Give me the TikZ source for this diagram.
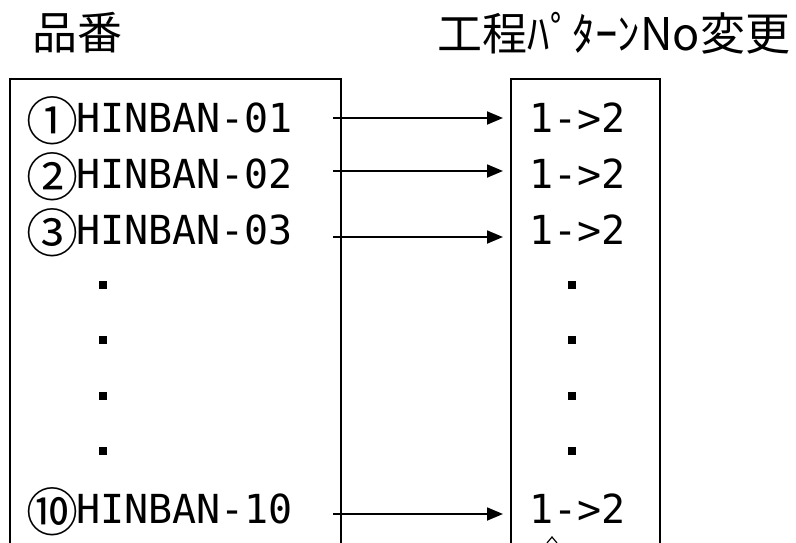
\documentclass[tikz,border=0pt]{standalone}
\usepackage{fontspec}
\newfontfamily\jpfont{Noto Sans CJK JP}
\newfontfamily\hinmono{DejaVu Sans Mono}
\usetikzlibrary{arrows.meta,positioning}
\tikzset{
  panel/.style={rectangle, draw=black, line width=2pt, anchor=north west, inner sep=0pt},
  title/.style={anchor=center, inner sep=0pt, font=\jpfont\fontsize{45pt}{45pt}\selectfont},
  item/.style={anchor=base west, inner sep=0pt, font=\hinmono\fontsize{40pt}{40pt}\selectfont},
  pnt/.style={rectangle, fill=black, minimum size=8pt, inner sep=0pt},
  flow/.style={draw, -{Triangle[length=16pt,width=13pt]}, line width=1.8pt, shorten >=7pt}
}
\newcommand{\circnum}[1]{\makebox[50pt][l]{\raisebox{-8pt}{\jpfont\fontsize{52pt}{52pt}\selectfont #1}}}

\begin{document}
\begin{tikzpicture}[x=1pt,y=-1pt]
\useasboundingbox (0,0) rectangle (796,543);
\clip (0,0) rectangle (796,543);

% headings
\node[title] (hinban) at (77,33) {品番};
\node[title] (koutei) at (614,33) {工程ﾊﾟﾀｰﾝNo変更};

% two columns, cut off at the bottom
\node[panel, minimum width=331pt, minimum height=520pt] (lbox) at (9,78) {};
\node[panel, minimum width=149pt, minimum height=520pt] (rbox) at (510,78) {};

% part numbers
\node[item] (hin1)  at (26,132) {\circnum{①}HINBAN-01};
\node[item] (hin2)  at (26,188) {\circnum{②}HINBAN-02};
\node[item] (hin3)  at (26,244) {\circnum{③}HINBAN-03};
\node[item] (hin10) at (26,523) {\circnum{⑩}HINBAN-10};

% pattern changes
\node[item] (chg1)  at (529,132) {1->2};
\node[item] (chg2)  at (529,188) {1->2};
\node[item] (chg3)  at (529,244) {1->2};
\node[item] (chg10) at (529,523) {1->2};

% omitted rows
\foreach \n/\y in {1/285,2/340,3/396,4/451} {
  \node[pnt] (ldot\n) at (103,\y) {};
  \node[pnt] (rdot\n) at (572,\y) {};
}

% arrows
\coordinate (from1)  at (333,118);
\coordinate (from2)  at (333,171);
\coordinate (from3)  at (333,237);
\coordinate (from10) at (333,514);
\draw[flow] (from1)  -- (from1 -| rbox.west);
\draw[flow] (from2)  -- (from2 -| rbox.west);
\draw[flow] (from3)  -- (from3 -| rbox.west);
\draw[flow] (from10) -- (from10 -| rbox.west);

% cut-off mark below
\draw[line width=1.2pt] (547,543) -- (552,537) -- (557,543);

\end{tikzpicture}
\end{document}
